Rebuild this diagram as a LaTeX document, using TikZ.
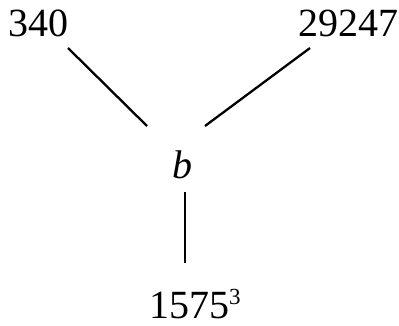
\documentclass[tikz,border=0pt]{standalone}
\usepackage{fontspec}
\setmainfont{Liberation Serif}
\begin{document}
\begin{tikzpicture}[x=1pt,y=-1pt,
  lbl/.style={inner sep=0pt,anchor=base,font=\fontsize{40}{44}\selectfont},
  edge/.style={line width=2.3pt}]
\useasboundingbox (0,0) rectangle (399,325);
\node[lbl] (a) at (38.5,36) {340};
\node[lbl] (c) at (348,36) {29247};
\node[lbl] (b) at (182,178) {\itshape b};
\node[lbl,anchor=base west] (d) at (149,318) {1575\raisebox{14pt}{\fontsize{23}{25}\selectfont 3}};
\coordinate (a1) at (68,48);
\coordinate (b1) at (147,126);
\coordinate (c1) at (310,48);
\coordinate (b2) at (205,126);
\coordinate (b3) at (185,192);
\coordinate (d1) at (185,263);
\draw[edge] (a1) -- (b1);
\draw[edge] (c1) -- (b2);
\draw[edge] (b3) -- (d1);
\end{tikzpicture}
\end{document}
